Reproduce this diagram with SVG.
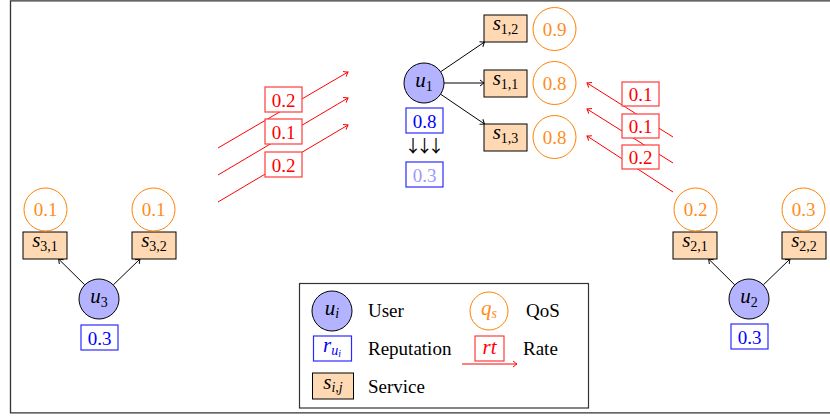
<svg xmlns="http://www.w3.org/2000/svg" width="830" height="417" viewBox="0 0 830 417">
<defs>
<marker id="ah" markerUnits="userSpaceOnUse" markerWidth="10" markerHeight="10" viewBox="-6 -5 8 10" refX="0" refY="0" orient="auto">
<path d="M-4,-3 Q-1.2,-0.8 0,0 Q-1.2,0.8 -4,3" fill="none" stroke="#000" stroke-width="1"/>
</marker>
<marker id="ahr" markerUnits="userSpaceOnUse" markerWidth="10" markerHeight="10" viewBox="-6 -5 8 10" refX="0" refY="0" orient="auto">
<path d="M-4,-3 Q-1.2,-0.8 0,0 Q-1.2,0.8 -4,3" fill="none" stroke="#ff0000" stroke-width="1"/>
</marker>
</defs>
<style>
text{font-family:"Liberation Serif","Times New Roman",serif;font-size:19px;}
.m{font-style:italic;font-size:21px;}
.sub{font-size:14px;font-style:normal;}
.subi{font-size:14px;font-style:italic;}
.c{text-anchor:middle;}
.user{fill:#b3b3ff;stroke:#000;stroke-width:1;}
.svc{fill:#ffd9b3;stroke:#000;stroke-width:1;}
.qos{fill:#fff;stroke:#ff8000;stroke-width:1;}
.qt{fill:#ff8c1a;}
.rep{fill:#fff;stroke:#2a2aff;stroke-width:1.2;}
.bt{fill:#0000ff;}
.rb{fill:#fff;stroke:#ff3b3b;stroke-width:1.2;}
.rt{fill:#ff0000;}
.edge{stroke:#000;stroke-width:1;fill:none;marker-end:url(#ah);}
.redge{stroke:#ff0000;stroke-width:1;fill:none;marker-end:url(#ahr);}
</style>
<rect width="830" height="417" fill="#fff"/>
<path d="M840,0.8 H10.5 V412.8 H840" fill="none" stroke="#333" stroke-width="1.3"/>

<g id="connectors">
<line class="edge" x1="440.6" y1="71.8" x2="484.5" y2="42"/>
<line class="edge" x1="444" y1="83" x2="484" y2="83"/>
<line class="edge" x1="440.6" y1="94.2" x2="484.5" y2="124"/>
<line class="edge" x1="84.8" y1="284.9" x2="58.6" y2="259"/>
<line class="edge" x1="113.3" y1="284.9" x2="140" y2="259"/>
<line class="edge" x1="734.8" y1="284.9" x2="708.6" y2="259"/>
<line class="edge" x1="763.3" y1="284.9" x2="790" y2="259"/>
<line class="redge" x1="218" y1="148" x2="348" y2="72"/>
<line class="redge" x1="218" y1="175" x2="348" y2="98"/>
<line class="redge" x1="218" y1="202" x2="348" y2="125"/>
<line class="redge" x1="673" y1="137" x2="587" y2="83"/>
<line class="redge" x1="673" y1="163" x2="587" y2="109"/>
<line class="redge" x1="673" y1="192" x2="587" y2="136"/>
</g>

<g id="rate-left">
<rect class="rb" x="265" y="87" width="37" height="25"/>
<text class="c rt" x="283.5" y="106.5">0.2</text>
<rect class="rb" x="265" y="119" width="37" height="25"/>
<text class="c rt" x="283.5" y="138.5">0.1</text>
<rect class="rb" x="265" y="152" width="37" height="25"/>
<text class="c rt" x="283.5" y="171.5">0.2</text>
</g>
<g id="rate-right">
<rect class="rb" x="622" y="82" width="37" height="24"/>
<text class="c rt" x="640.5" y="101">0.1</text>
<rect class="rb" x="622" y="114" width="37" height="24"/>
<text class="c rt" x="640.5" y="133">0.1</text>
<rect class="rb" x="622" y="145" width="37" height="24"/>
<text class="c rt" x="640.5" y="164">0.2</text>
</g>

<g id="u1">
<circle class="user" cx="424" cy="83" r="20"/>
<text class="c" x="424" y="87"><tspan class="m">u</tspan><tspan class="sub" dy="3.5">1</tspan></text>
</g>
<g id="rep-u1">
<rect class="rep" x="406" y="108" width="37" height="25"/>
<text class="c bt" x="424.5" y="127.5">0.8</text>
</g>
<g id="down-arrows">
<text x="413 424.5 436" y="152" class="c" style="font-family:'Noto Sans CJK JP','DejaVu Sans',sans-serif;font-size:17px" fill="#000">↓↓↓</text>
</g>
<g id="rep-u1-new">
<rect class="rep" x="406" y="162" width="37" height="25"/>
<text class="c" x="424.5" y="181.5" fill="#9999ff">0.3</text>
</g>
<g id="s12">
<rect class="svc" x="484" y="15" width="43" height="27"/>
<text class="c" x="505.5" y="30"><tspan class="m">s</tspan><tspan class="sub" dy="3.5">1,2</tspan></text>
</g>
<g id="s11">
<rect class="svc" x="484" y="70" width="43" height="27"/>
<text class="c" x="505.5" y="85"><tspan class="m">s</tspan><tspan class="sub" dy="3.5">1,1</tspan></text>
</g>
<g id="s13">
<rect class="svc" x="484" y="124" width="43" height="27"/>
<text class="c" x="505.5" y="139"><tspan class="m">s</tspan><tspan class="sub" dy="3.5">1,3</tspan></text>
</g>
<g id="q12">
<circle class="qos" cx="554.5" cy="29" r="21.5"/>
<text class="c qt" x="554.5" y="35.5">0.9</text>
</g>
<g id="q11">
<circle class="qos" cx="554.5" cy="83" r="21.5"/>
<text class="c qt" x="554.5" y="89.5">0.8</text>
</g>
<g id="q13">
<circle class="qos" cx="554.5" cy="137" r="21.5"/>
<text class="c qt" x="554.5" y="143.5">0.8</text>
</g>

<g id="u3">
<circle class="user" cx="99" cy="299" r="20"/>
<text class="c" x="99" y="303"><tspan class="m">u</tspan><tspan class="sub" dy="3.5">3</tspan></text>
</g>
<g id="rep-u3">
<rect class="rep" x="81" y="325" width="37" height="25"/>
<text class="c bt" x="99.5" y="344.5">0.3</text>
</g>
<g id="s31">
<rect class="svc" x="23" y="232" width="44" height="27"/>
<text class="c" x="45" y="247"><tspan class="m">s</tspan><tspan class="sub" dy="3.5">3,1</tspan></text>
</g>
<g id="s32">
<rect class="svc" x="132" y="232" width="44" height="27"/>
<text class="c" x="154" y="247"><tspan class="m">s</tspan><tspan class="sub" dy="3.5">3,2</tspan></text>
</g>
<g id="q31">
<circle class="qos" cx="45.5" cy="209.5" r="21.5"/>
<text class="c qt" x="45.5" y="216">0.1</text>
</g>
<g id="q32">
<circle class="qos" cx="153.5" cy="209.5" r="21.5"/>
<text class="c qt" x="153.5" y="216">0.1</text>
</g>

<g id="u2">
<circle class="user" cx="749" cy="299" r="20"/>
<text class="c" x="749" y="303"><tspan class="m">u</tspan><tspan class="sub" dy="3.5">2</tspan></text>
</g>
<g id="rep-u2">
<rect class="rep" x="731" y="324" width="37" height="25"/>
<text class="c bt" x="749.5" y="343.5">0.3</text>
</g>
<g id="s21">
<rect class="svc" x="673" y="232" width="44" height="27"/>
<text class="c" x="695" y="247"><tspan class="m">s</tspan><tspan class="sub" dy="3.5">2,1</tspan></text>
</g>
<g id="s22">
<rect class="svc" x="782" y="232" width="44" height="27"/>
<text class="c" x="804" y="247"><tspan class="m">s</tspan><tspan class="sub" dy="3.5">2,2</tspan></text>
</g>
<g id="q21">
<circle class="qos" cx="695.5" cy="209.5" r="21.5"/>
<text class="c qt" x="695.5" y="216">0.2</text>
</g>
<g id="q22">
<circle class="qos" cx="803.5" cy="209.5" r="21.5"/>
<text class="c qt" x="803.5" y="216">0.3</text>
</g>

<g id="legend">
<rect x="299.5" y="283.5" width="289" height="124.5" fill="#fff" stroke="#333" stroke-width="1.2"/>
<circle class="user" cx="332" cy="311" r="20"/>
<text class="c" x="332" y="314.5"><tspan class="m">u</tspan><tspan class="subi" dy="3.5">i</tspan></text>
<text x="368" y="317">User</text>
<circle class="qos" cx="489" cy="311" r="19"/>
<text class="c qt" x="489" y="314.5"><tspan class="m">q</tspan><tspan class="subi" dy="3.5">s</tspan></text>
<text x="526" y="317">QoS</text>
<rect class="rep" x="313.5" y="336" width="38" height="25"/>
<text class="c bt" x="332" y="351.5"><tspan class="m">r</tspan><tspan class="subi" dy="3">u</tspan><tspan style="font-size:10px;font-style:italic" dy="2">i</tspan></text>
<text x="368" y="355">Reputation</text>
<rect class="rb" x="475" y="336" width="29" height="25"/>
<text class="c rt m" x="489.5" y="354">rt</text>
<line class="redge" x1="462" y1="364" x2="517" y2="364"/>
<text x="523" y="355">Rate</text>
<rect class="svc" x="312.5" y="373" width="41" height="26"/>
<text class="c" x="333" y="388.5"><tspan class="m">s</tspan><tspan class="subi" dy="3.5">i,j</tspan></text>
<text x="368" y="393">Service</text>
</g>
</svg>
